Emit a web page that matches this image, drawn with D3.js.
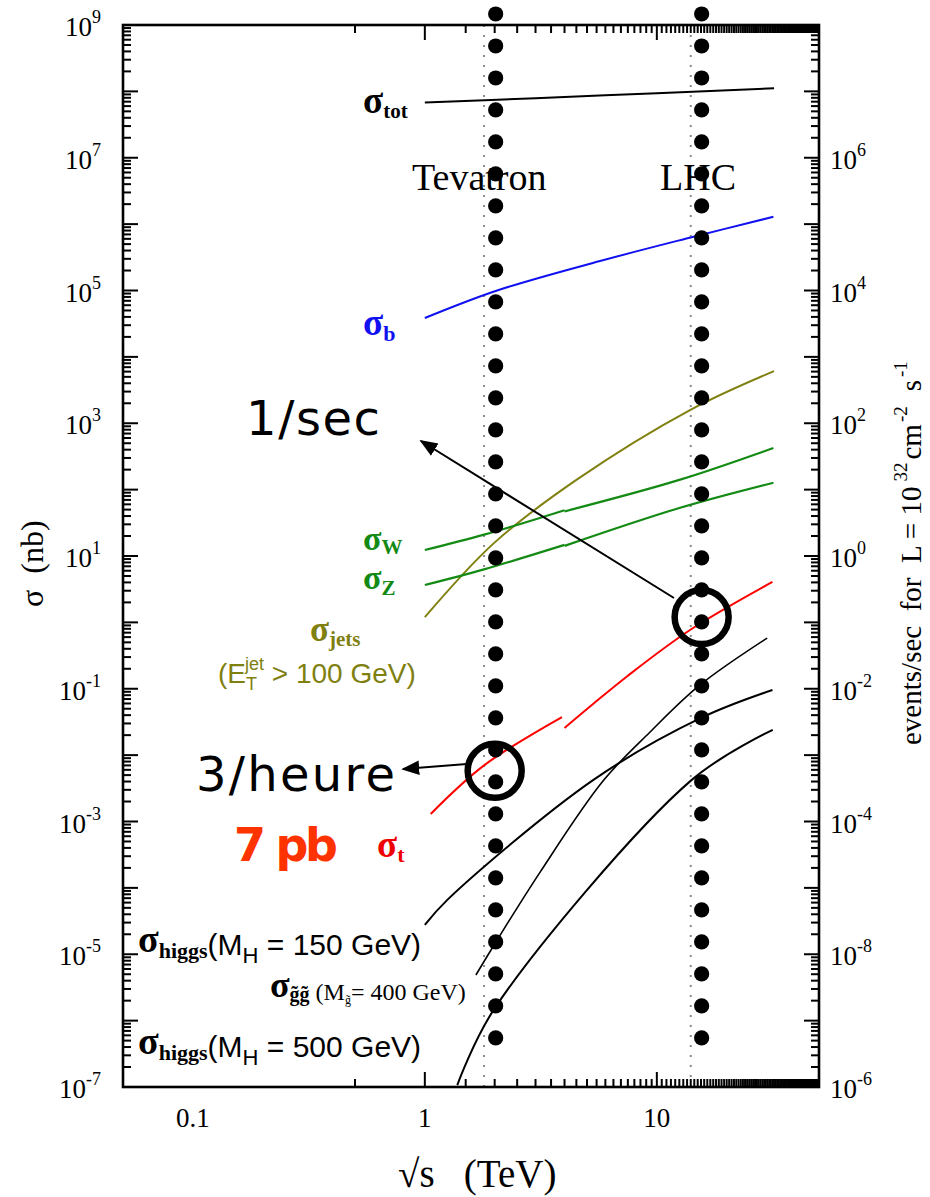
<!DOCTYPE html>
<html><head><meta charset="utf-8">
<script src="https://cdn.jsdelivr.net/npm/d3@7"></script>
<style>body{margin:0;background:#fff}svg{display:block}</style>
</head><body>
<svg id="chart" width="930" height="1197"></svg>
<script>
// ---------------- data ----------------
const xDomain = [0.05, 50];            // sqrt(s) in TeV
const yDomain = [1e-7, 1e9];           // sigma in nb
const xTickLabels = ["0.1", "1", "10"];
const xTickValues = [0.1, 1, 10];
const leftTickExps = [9, 7, 5, 3, 1, -1, -3, -5, -7];
const rightTickValues = [1e7, 1e5, 1e3, 1e1, 1e-1, 1e-3, 1e-5, 1e-7];
const rightTickExps = ["6", "4", "2", "0", "-2", "-4", "-8", "-6"];

// curves: [sqrt(s) TeV, sigma nb]
const sigmaTot   = [[1, 6.8e7], [3, 7.9e7], [10, 9.4e7], [32, 1.11e8]];
const sigmaB     = [[1, 3.85e4], [2.05, 1.0e5], [5.69, 2.78e5], [14, 6.3e5], [31.8, 1.29e6]];
const sigmaJets  = [[1, 1.2], [1.98, 15.5], [4.5, 140], [13.9, 1580], [32, 6100]];
const sigmaWppbar = [[1, 12.3], [1.8, 21], [4.0, 49]];
const sigmaWpp    = [[4.0, 47], [12.5, 140], [31.8, 424]];
const sigmaZppbar = [[1, 3.66], [1.8, 6.3], [4.0, 14.7]];
const sigmaZpp    = [[4.0, 14.2], [12.5, 52.8], [31.8, 127]];
const sigmaTppbar = [[1.06, 1.3e-3], [1.8, 7e-3], [3.9, 0.0375]];
const sigmaTpp    = [[4.0, 0.0257], [5.31, 0.0589], [7.41, 0.152], [13.9, 0.767], [31.5, 4.06]];
const sigmaH150   = [[1, 2.76e-5], [1.25, 6.6e-5], [5.31, 4.2e-3], [15.5, 0.0363], [31.5, 0.0957]];
const sigmaGluino = [[1.66, 4.87e-6], [2.05, 1.64e-5], [3.14, 1.73e-4], [5.86, 4.07e-3], [9.35, 0.0223], [15.35, 0.114], [29.9, 0.58]];
const sigmaH500   = [[1.38, 1.07e-7], [1.98, 1.45e-6], [14.1, 4.2e-3], [31.6, 0.024]];

const colliderLines = [1.8, 14];          // Tevatron, LHC (TeV)
const dotColumns = [2.02, 15.6];          // big dot columns (TeV)
const dotRange = [Math.pow(10, 9.166), Math.pow(10, -6.26)];
const dotCount = 33;
const circleMarks = [[2.0, 5.8e-3], [15.6, 1.2]];   // annotation circles

// ---------------- drawing ----------------
const svg = d3.select("#chart");
const L = 123, R = 819, T = 25, B = 1087;
const x = d3.scaleLog().domain(xDomain).range([L, R]);
const y = d3.scaleLog().domain(yDomain).range([B, T]);

const serif = "'Liberation Serif', 'Times New Roman', serif";
const sans = "'Liberation Sans', Arial, sans-serif";
const comic = "'Comic Sans MS', 'DejaVu Sans', sans-serif";

// collider dotted lines
svg.append("g").selectAll("line").data(colliderLines).join("line")
  .attr("x1", d => x(d)).attr("x2", d => x(d)).attr("y1", T).attr("y2", B)
  .attr("stroke", "#8a8a8a").attr("stroke-width", 2).attr("stroke-dasharray", "2,8");

// curves
const line = d3.line().x(d => x(d[0])).y(d => y(d[1])).curve(d3.curveCatmullRom.alpha(0.5));
const curves = [
  [sigmaTot, "#000", 2],
  [sigmaB, "#1010f0", 2],
  [sigmaJets, "#808010", 2],
  [sigmaWppbar, "#138a13", 2.2], [sigmaWpp, "#138a13", 2.2],
  [sigmaZppbar, "#138a13", 2.2], [sigmaZpp, "#138a13", 2.2],
  [sigmaTppbar, "#ff0000", 2], [sigmaTpp, "#ff0000", 2],
  [sigmaH150, "#000", 2], [sigmaGluino, "#000", 1.6], [sigmaH500, "#000", 2]
];
svg.append("g").selectAll("path").data(curves).join("path")
  .attr("d", d => line(d[0])).attr("fill", "none")
  .attr("stroke", d => d[1]).attr("stroke-width", d => d[2]);

// frame & ticks
const frame = svg.append("g");
frame.append("rect").attr("x", L).attr("y", T).attr("width", R - L).attr("height", B - T)
  .attr("fill", "none").attr("stroke", "#000").attr("stroke-width", 2.6);

const yTicks = y.ticks(100);
const xTicks = x.ticks(100).filter(v => v > xDomain[0] && v < xDomain[1]);
const isMajor = v => Math.abs(Math.log10(v) - Math.round(Math.log10(v))) < 1e-6;
frame.selectAll(".yl").data(yTicks).join("line")
  .attr("x1", L).attr("x2", d => L + (isMajor(d) ? 15 : 8))
  .attr("y1", d => y(d)).attr("y2", d => y(d)).attr("stroke", "#000").attr("stroke-width", 2);
frame.selectAll(".yr").data(yTicks).join("line")
  .attr("x1", R).attr("x2", d => R - (isMajor(d) ? 15 : 8))
  .attr("y1", d => y(d)).attr("y2", d => y(d)).attr("stroke", "#000").attr("stroke-width", 2);
frame.selectAll(".xb").data(xTicks).join("line")
  .attr("y1", B).attr("y2", d => B - (isMajor(d) ? 15 : 8))
  .attr("x1", d => x(d)).attr("x2", d => x(d)).attr("stroke", "#000").attr("stroke-width", 2);
frame.selectAll(".xt").data(xTicks).join("line")
  .attr("y1", T).attr("y2", d => T + (isMajor(d) ? 15 : 8))
  .attr("x1", d => x(d)).attr("x2", d => x(d)).attr("stroke", "#000").attr("stroke-width", 2);

// tick labels
const lt = svg.append("g").attr("font-family", serif).attr("fill", "#000");
leftTickExps.forEach(e => {
  const t = lt.append("text").attr("x", 101).attr("y", y(Math.pow(10, e)) + 11)
    .attr("text-anchor", "end").attr("font-size", 27);
  t.append("tspan").text("10");
  t.append("tspan").attr("font-size", 18).attr("dy", -13).text(e);
});
rightTickValues.forEach((v, i) => {
  const t = lt.append("text").attr("x", 830).attr("y", y(v) + 11).attr("font-size", 27);
  t.append("tspan").text("10");
  t.append("tspan").attr("font-size", 18).attr("dy", -13).text(rightTickExps[i]);
});
xTickValues.forEach((v, i) => {
  lt.append("text").attr("x", x(v)).attr("y", 1127).attr("text-anchor", "middle")
    .attr("font-size", 27).text(xTickLabels[i]);
});

// axis titles
lt.append("text").attr("x", 398).attr("y", 1187).attr("font-size", 39)
  .style("white-space", "pre").text("√s   (TeV)");
lt.append("text").attr("transform", "translate(43,607) rotate(-90)").attr("font-size", 32)
  .style("white-space", "pre").text("σ  (nb)");
{
  const t = lt.append("text").attr("transform", "translate(921,745) rotate(-90)")
    .attr("font-size", 29).style("white-space", "pre");
  t.append("tspan").text("events/sec  for  L = 10");
  t.append("tspan").attr("font-size", 19).attr("dx", 5).attr("dy", -14).text("32");
  t.append("tspan").attr("dy", 14).attr("dx", 3).text("cm");
  t.append("tspan").attr("font-size", 19).attr("dy", -14).attr("dx", 2).text("-2");
  t.append("tspan").attr("dy", 14).attr("dx", 15).text("s");
  t.append("tspan").attr("font-size", 19).attr("dy", -14).attr("dx", 3).text("-1");
}

// collider names
lt.append("text").attr("x", 412).attr("y", 190).attr("font-size", 38).text("Tevatron");
lt.append("text").attr("x", 660).attr("y", 190).attr("font-size", 38).text("LHC");

// big dots
const dotGroup = svg.append("g");
dotColumns.forEach(c => {
  const ly0 = Math.log10(dotRange[0]), ly1 = Math.log10(dotRange[1]);
  const ys = d3.range(dotCount).map(i => Math.pow(10, ly0 + (ly1 - ly0) * i / (dotCount - 1)));
  dotGroup.selectAll(null).data(ys).join("circle")
    .attr("cx", x(c)).attr("cy", d => y(d)).attr("r", 7.6).attr("fill", "#000");
});

// sigma labels
function sigLabel(px, py, color, sub, subSize, sigSize, drop) {
  const t = svg.append("text").attr("x", px).attr("y", py).attr("fill", color)
    .attr("font-family", serif).attr("font-weight", "bold");
  t.append("tspan").attr("font-size", sigSize).text("σ");
  t.append("tspan").attr("font-size", subSize).attr("dy", drop).text(sub);
  return t;
}
sigLabel(363, 113, "#000", "tot", 21, 37, 5);
sigLabel(363, 335, "#1010f0", "b", 22, 37, 6);
sigLabel(363, 550, "#138a13", "W", 21, 34, 4);
sigLabel(363, 589, "#138a13", "Z", 21, 34, 6);
sigLabel(310, 641, "#808010", "jets", 21, 35, 5);
sigLabel(377, 857, "#ee0000", "t", 22, 37, 5);
{
  const t = svg.append("text").attr("x", 218).attr("y", 683).attr("fill", "#808010")
    .attr("font-family", sans).attr("font-size", 28).style("white-space", "pre");
  t.append("tspan").text("(E");
  t.append("tspan").attr("font-size", 18).attr("dy", 7).text("T");
  t.append("tspan").attr("font-size", 18).attr("dy", -20).attr("dx", -12).text("jet");
  t.append("tspan").attr("dy", 13).text(" > 100 GeV)");
}
function higgsLabel(py, mass) {
  const t = svg.append("text").attr("x", 138).attr("y", py).attr("fill", "#000");
  t.append("tspan").attr("font-family", serif).attr("font-weight", "bold").attr("font-size", 38).attr("dy", -3).text("σ");
  t.append("tspan").attr("font-family", serif).attr("font-weight", "bold").attr("font-size", 22).attr("dy", 6).text("higgs");
  t.append("tspan").attr("font-family", sans).attr("font-size", 30).attr("dy", -3).text("(M");
  t.append("tspan").attr("font-family", sans).attr("font-size", 22).attr("dy", 8).text("H");
  t.append("tspan").attr("font-family", sans).attr("font-size", 30).attr("dy", -8)
    .style("white-space", "pre").text(" = " + mass + " GeV)");
}
higgsLabel(955, 150);
higgsLabel(1057, 500);
{
  const t = svg.append("text").attr("x", 270).attr("y", 997).attr("fill", "#000").attr("font-family", serif);
  t.append("tspan").attr("font-weight", "bold").attr("font-size", 36).text("σ");
  t.append("tspan").attr("font-weight", "bold").attr("font-size", 20).attr("dy", 4).text("g\u0303g\u0303");
  t.append("tspan").attr("font-size", 24).attr("dy", -1).style("white-space", "pre").text(" (M");
  t.append("tspan").attr("font-size", 12).attr("dy", 4).text("g\u0303");
  t.append("tspan").attr("font-size", 24).attr("dy", -4).text("= 400 GeV)");
}

// annotations
const ann = svg.append("g");
ann.append("defs").append("marker").attr("id", "arr").attr("viewBox", "0 0 10 10")
  .attr("refX", 9).attr("refY", 5).attr("markerWidth", 9).attr("markerHeight", 9)
  .attr("orient", "auto-start-reverse")
  .append("path").attr("d", "M0,1 L10,5 L0,9 Z").attr("fill", "#000");
ann.selectAll("circle").data(circleMarks).join("circle")
  .attr("cx", d => x(d[0])).attr("cy", d => y(d[1])).attr("r", 27)
  .attr("fill", "none").attr("stroke", "#000").attr("stroke-width", 6.5);
ann.append("line").attr("x1", 674).attr("y1", 598).attr("x2", 421).attr("y2", 441)
  .attr("stroke", "#000").attr("stroke-width", 2).attr("marker-end", "url(#arr)");
ann.append("line").attr("x1", 467).attr("y1", 764).attr("x2", 403).attr("y2", 769)
  .attr("stroke", "#000").attr("stroke-width", 2).attr("marker-end", "url(#arr)");
ann.append("text").attr("x", 246).attr("y", 435).attr("font-family", comic).attr("font-size", 48)
  .attr("textLength", 134).text("1/sec");
ann.append("text").attr("x", 196).attr("y", 791).attr("font-family", comic).attr("font-size", 48)
  .attr("textLength", 199).text("3/heure");
ann.append("text").attr("x", 234).attr("y", 861).attr("font-family", comic).attr("font-size", 46)
  .attr("font-weight", "bold").attr("fill", "#ff3300").style("white-space", "pre").attr("textLength", 104).text("7 pb");
</script>
</body></html>
